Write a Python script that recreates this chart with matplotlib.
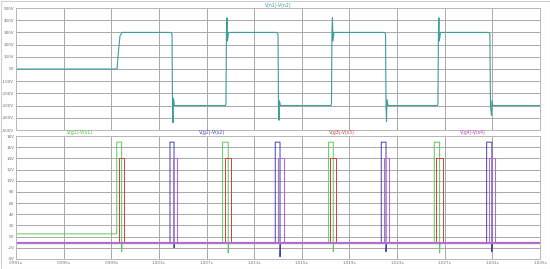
# inverter output voltage and gate drive signals (scope-style two panel plot)

import matplotlib.pyplot as plt
from matplotlib.patches import Rectangle

# -- data --
# output voltage V(n1)-V(n2): breakpoints (time in s, volts)
t_out = [0.99100, 0.99948, 0.99961, 0.99973, 0.99990, 1.00402, 1.00410,
         1.00414, 1.00418, 1.00422, 1.00431, 1.00859, 1.00863, 1.00867,
         1.00872, 1.00876, 1.00884, 1.01291, 1.01300, 1.01304, 1.01308,
         1.01312, 1.01321, 1.01745, 1.01749, 1.01753, 1.01757, 1.01762,
         1.01770, 1.02194, 1.02203, 1.02207, 1.02211, 1.02215, 1.02224,
         1.02639, 1.02643, 1.02647, 1.02651, 1.02655, 1.02664, 1.03071,
         1.03079, 1.03084, 1.03092, 1.03096, 1.03104, 1.03500]
v_out = [0, 0, 150, 270, 300, 300, 285,
         -300, -440, -240, -300, -300, -285, 300,
         420, 230, 300, 300, 285, -300, -420,
         -260, -300, -300, -285, 300, 420, 230,
         300, 300, 285, -300, -430, -250, -300,
         -300, -285, 300, 420, 230, 300, 300,
         285, -300, -380, -260, -300, -300]

# gate pulses: (start, end) in s
g1_pulses = [(0.99946, 0.99987), (1.00835, 1.00882), (1.01725, 1.01764), (1.02612, 1.02657)]
g3_pulses = [(0.99967, 1.00009), (1.00855, 1.00903), (1.01739, 1.01787), (1.02624, 1.02683)]
g2_pulses = [(1.00393, 1.00427), (1.01277, 1.01317), (1.02167, 1.02207), (1.03052, 1.03096)]
g4_pulses = [(1.00418, 1.00452), (1.01302, 1.01348), (1.02190, 1.02234), (1.03074, 1.03124)]
g1_start_level = 0.5      # green sits a bit higher before the first pulse
g_low = -1.1
g_high_a = 16.9           # g1, g2
g_high_b = 14.1           # g3, g4
g1_undershoot = [-2.7, -2.9, -2.7, -2.9]
g2_undershoot = [-2.0, -3.6, -2.7, -2.7]

t_start, t_end = 0.991, 1.035
x_ticks = [0.991, 0.995, 0.999, 1.003, 1.007, 1.011, 1.015, 1.019, 1.023, 1.027, 1.031, 1.035]
top_ticks = [-500, -400, -300, -200, -100, 0, 100, 200, 300, 400, 500]
bot_ticks = [-4, -2, 0, 2, 4, 6, 8, 10, 12, 14, 16, 18]


def pulse_train(pulses, high, low, first_low=None, undershoot=None):
    # build a rectangular waveform from the edge times
    t = [t_start]
    v = [first_low if first_low is not None else low]
    for i, (a, b) in enumerate(pulses):
        before = v[-1]
        t += [a, a, b, b]
        v += [before, high, high, undershoot[i] if undershoot else low]
        if undershoot:
            t += [b + 0.00003]
            v += [low]
    t.append(t_end)
    v.append(low)
    return t, v


W, H = 550, 269
fig = plt.figure(figsize=(W / 100, H / 100), dpi=100)
fig.patch.set_facecolor('white')

def box(l, t, r, b):
    return [l / W, 1 - b / H, (r - l) / W, (b - t) / H]

ax1 = fig.add_axes(box(16, 8, 540, 130))
ax2 = fig.add_axes(box(16, 136, 540, 259))

grid_col = '#a8a8a8'
tick_col = '#707070'

for ax in (ax1, ax2):
    ax.set_xlim(t_start, t_end)
    ax.set_xticks(x_ticks)
    ax.grid(True, color=grid_col, lw=0.7)
    ax.set_axisbelow(True)
    for s in ax.spines.values():
        s.set_color('#b8b8b8')
        s.set_linewidth(0.7)
    ax.tick_params(length=0, labelsize=3.0, colors=tick_col, pad=1.2)

# top panel
ax1.plot(t_out, v_out, color='#3f9c9c', lw=0.8)
ax1.set_ylim(-500, 500)
ax1.set_yticks(top_ticks)
ax1.set_yticklabels([f'{v}V' for v in top_ticks])
ax1.set_xticklabels([])

# bottom panel
t1, v1 = pulse_train(g1_pulses, g_high_a, g_low, g1_start_level, g1_undershoot)
t3, v3 = pulse_train(g3_pulses, g_high_b, g_low)
t2, v2 = pulse_train(g2_pulses, g_high_a, g_low, None, g2_undershoot)
t4, v4 = pulse_train(g4_pulses, g_high_b, g_low)
ax2.plot(t1, v1, color='#5cc85c', lw=0.7)
ax2.plot(t3, v3, color='#d04040', lw=0.7)
ax2.plot(t2, v2, color='#4040b0', lw=0.7)
ax2.plot(t4, v4, color='#b070c8', lw=0.8)
ax2.plot([t_start, t_end], [g_low, g_low], color='#b070c8', lw=1.6)
ax2.set_ylim(-4, 18)
ax2.set_yticks(bot_ticks)
ax2.set_yticklabels([f'{v}V' for v in bot_ticks])
ax2.set_xticklabels([f'{x:.3f}s' for x in x_ticks])

# trace names
fig.text(278 / W, 1 - 5 / H, 'V(n1)-V(n2)', color='#3f9c9c', fontsize=3.3, ha='center', va='center')
names = ['V(g1)-V(s1)', 'V(g2)-V(s2)', 'V(g3)-V(s3)', 'V(g4)-V(s4)']
name_cols = ['#40b840', '#4040b0', '#d04040', '#c040c0']
name_x = [80, 212, 342, 473]
for n, c, x in zip(names, name_cols, name_x):
    fig.text(x / W, 1 - 133 / H, n, color=c, fontsize=3.3, ha='center', va='center')

# light frame around the whole picture
fig.patches.append(Rectangle((0.5 / W, 0.5 / H), 1 - 1 / W, 1 - 1 / H, transform=fig.transFigure,
                             fill=False, edgecolor='#d0d0d0', lw=0.8))

plt.savefig('out.png', dpi=100)
